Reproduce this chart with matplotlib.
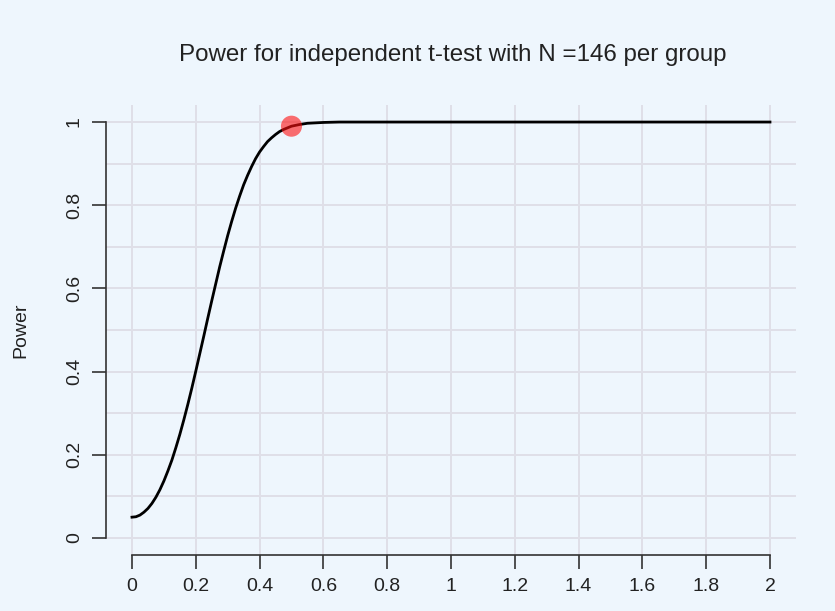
"""
Power-Kurve fuer unabhaengigen t-Test (N = 146 pro Gruppe), R-Stil nachgebaut.
"""
import matplotlib
matplotlib.use("Agg")
import matplotlib.pyplot as plt

effect_size = [0.0, 0.0125, 0.025, 0.0375, 0.05, 0.0625, 0.075, 0.0875,
               0.1, 0.1125, 0.125, 0.1375, 0.15, 0.1625, 0.175, 0.1875,
               0.2, 0.2125, 0.225, 0.2375, 0.25, 0.2625, 0.275, 0.2875,
               0.3, 0.3125, 0.325, 0.3375, 0.35, 0.3625, 0.375, 0.3875,
               0.4, 0.4125, 0.425, 0.4375, 0.45, 0.4625, 0.475, 0.4875,
               0.5, 0.525, 0.55, 0.575, 0.6, 0.65, 0.7, 0.8, 1.0, 1.5, 2.0]
power = [0.050, 0.051, 0.055, 0.062, 0.071, 0.083, 0.098, 0.116,
         0.137, 0.161, 0.187, 0.217, 0.249, 0.284, 0.321, 0.360,
         0.401, 0.443, 0.485, 0.528, 0.570, 0.611, 0.652, 0.690,
         0.727, 0.761, 0.793, 0.822, 0.849, 0.872, 0.893, 0.912,
         0.928, 0.941, 0.953, 0.962, 0.970, 0.977, 0.982, 0.986,
         0.990, 0.994, 0.997, 0.998, 0.999, 1.0, 1.0, 1.0, 1.0, 1.0, 1.0]

# markierter Punkt (d = 0.5)
point_x = [0.5]
point_y = [0.990]

x_ticks = [0, 0.2, 0.4, 0.6, 0.8, 1, 1.2, 1.4, 1.6, 1.8, 2]
x_ticklabels = ["0", "0.2", "0.4", "0.6", "0.8", "1", "1.2", "1.4", "1.6", "1.8", "2"]
y_ticks = [0, 0.2, 0.4, 0.6, 0.8, 1]
y_ticklabels = ["0", "0.2", "0.4", "0.6", "0.8", "1"]
y_grid = [i / 10 for i in range(11)]

bg = "#eef6fd"
grid_col = "#dfdfe8"

plt.rcParams["font.family"] = ["Liberation Sans", "DejaVu Sans"]

fig = plt.figure(figsize=(8.35, 6.11), dpi=100, facecolor=bg)
ax = fig.add_axes([0.1275, 0.0923, 0.8252, 0.7352], facecolor=bg)

ax.set_xlim(-0.08, 2.08)
ax.set_ylim(-0.04, 1.04)

# Gitter (vertikal an x-Ticks, horizontal alle 0.1)
for xv in x_ticks:
    ax.axvline(xv, color=grid_col, lw=1.4, zorder=0)
for yv in y_grid:
    ax.axhline(yv, color=grid_col, lw=1.4, zorder=0)

ax.plot(effect_size, power, color="black", lw=2, zorder=3,
        solid_joinstyle="round")
ax.scatter(point_x, point_y, s=230, color="#ff1010", alpha=0.6,
           edgecolors="none", zorder=4)

# Achsen im R-Stil
for side in ["top", "right"]:
    ax.spines[side].set_visible(False)
ax.spines["left"].set_bounds(0, 1)
ax.spines["bottom"].set_bounds(0, 2)
for side in ["left", "bottom"]:
    ax.spines[side].set_color("#333333")
    ax.spines[side].set_linewidth(1.2)

ax.set_xticks(x_ticks)
ax.set_xticklabels(x_ticklabels)
ax.set_yticks(y_ticks)
ax.set_yticklabels(y_ticklabels, rotation=90, va="center")
ax.tick_params(axis="both", length=10, width=1.2, color="#333333",
               labelsize=14, labelcolor="#222222", pad=7)

ax.set_ylabel("Power", fontsize=14, color="#222222", labelpad=26)
fig.text(0.542, 0.91, "Power for independent t-test with N =146 per group",
         ha="center", va="center", fontsize=17.4, color="#222222")

fig.savefig("out.png", dpi=100, facecolor=bg)
